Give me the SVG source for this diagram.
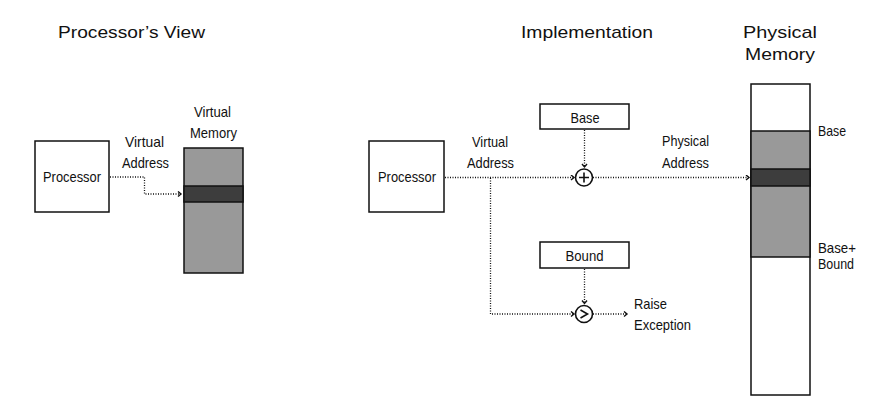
<svg xmlns="http://www.w3.org/2000/svg" width="891" height="413" viewBox="0 0 891 413">
<style>
text{font-family:"Liberation Sans",Arial,sans-serif;fill:#111;}
.t{font-size:17px;}
.l{font-size:14.5px;}
.box{fill:#fff;stroke:#111;stroke-width:1.5;}
.gray{fill:#999;stroke:#111;stroke-width:1.5;}
.dark{fill:#3d3d3d;stroke:#111;stroke-width:1.5;}
.dot{fill:none;stroke:#111;stroke-width:1.3;stroke-dasharray:1 1.5;}
.op{fill:#fff;stroke:#111;stroke-width:1.6;}
</style>
<defs>
<marker id="ah" markerWidth="8" markerHeight="8" refX="4" refY="3" orient="auto" markerUnits="userSpaceOnUse">
<path d="M1,0.5 L4,3 L1,5.5" fill="none" stroke="#111" stroke-width="1.4"/>
</marker>
</defs>
<rect width="891" height="413" fill="#fff"/>

<g id="titles">
<text class="t" x="58" y="38" textLength="147" lengthAdjust="spacingAndGlyphs">Processor’s View</text>
<text class="t" x="521" y="38" textLength="132" lengthAdjust="spacingAndGlyphs">Implementation</text>
<text class="t" x="743" y="38" textLength="74" lengthAdjust="spacingAndGlyphs">Physical</text>
<text class="t" x="745" y="60" textLength="70" lengthAdjust="spacingAndGlyphs">Memory</text>
</g>

<g id="left-processor">
<rect class="box" x="35" y="141" width="74" height="71"/>
<text class="l" x="43" y="182" textLength="58" lengthAdjust="spacingAndGlyphs">Processor</text>
</g>

<g id="virtual-memory">
<text class="l" x="194" y="117" textLength="37" lengthAdjust="spacingAndGlyphs">Virtual</text>
<text class="l" x="190" y="138" textLength="47" lengthAdjust="spacingAndGlyphs">Memory</text>
<rect class="gray" x="184" y="148" width="59" height="125"/>
<rect class="dark" x="184" y="186" width="59" height="16"/>
</g>

<g id="right-processor">
<rect class="box" x="369" y="141" width="75" height="71"/>
<text class="l" x="378" y="182" textLength="58" lengthAdjust="spacingAndGlyphs">Processor</text>
</g>

<g id="base-reg">
<rect class="box" x="540" y="104" width="89" height="25"/>
<text class="l" x="570.5" y="122.5" textLength="29" lengthAdjust="spacingAndGlyphs">Base</text>
</g>

<g id="bound-reg">
<rect class="box" x="540" y="242" width="89" height="26"/>
<text class="l" x="565.5" y="260.5" textLength="38" lengthAdjust="spacingAndGlyphs">Bound</text>
</g>

<g id="adder">
<circle class="op" cx="584" cy="177.5" r="8.5"/>
<path d="M584,172.5 V182.5 M579,177.5 H589" stroke="#111" stroke-width="1.6"/>
</g>

<g id="comparator">
<circle class="op" cx="584" cy="314" r="8.5"/>
<path d="M580.5,310 L587.5,314 L580.5,318" fill="none" stroke="#111" stroke-width="1.6"/>
</g>

<g id="physical-memory">
<rect class="box" x="751" y="84" width="59" height="311"/>
<rect class="gray" x="751" y="131" width="59" height="126"/>
<rect class="dark" x="751" y="169" width="59" height="17"/>
<text class="l" x="818" y="136" textLength="28" lengthAdjust="spacingAndGlyphs">Base</text>
<text class="l" x="818" y="253" textLength="38" lengthAdjust="spacingAndGlyphs">Base+</text>
<text class="l" x="818" y="269" textLength="36" lengthAdjust="spacingAndGlyphs">Bound</text>
</g>

<g id="labels">
<text class="l" x="125" y="147" textLength="39" lengthAdjust="spacingAndGlyphs">Virtual</text>
<text class="l" x="122" y="168" textLength="47" lengthAdjust="spacingAndGlyphs">Address</text>
<text class="l" x="472" y="147" textLength="36" lengthAdjust="spacingAndGlyphs">Virtual</text>
<text class="l" x="467" y="168" textLength="47" lengthAdjust="spacingAndGlyphs">Address</text>
<text class="l" x="662" y="146" textLength="47" lengthAdjust="spacingAndGlyphs">Physical</text>
<text class="l" x="662" y="167.5" textLength="47" lengthAdjust="spacingAndGlyphs">Address</text>
<text class="l" x="634" y="309" textLength="33" lengthAdjust="spacingAndGlyphs">Raise</text>
<text class="l" x="634" y="330" textLength="57" lengthAdjust="spacingAndGlyphs">Exception</text>
</g>

<g id="connectors">
<path class="dot" d="M110,177 H144.5 V194 H181" marker-end="url(#ah)"/>
<path class="dot" d="M445,177.5 H574" marker-end="url(#ah)"/>
<path class="dot" d="M584.5,130 V167" marker-end="url(#ah)"/>
<path class="dot" d="M593,177.5 H749" marker-end="url(#ah)"/>
<path class="dot" d="M490.5,178 V314 H574" marker-end="url(#ah)"/>
<path class="dot" d="M584.5,269 V303.5" marker-end="url(#ah)"/>
<path class="dot" d="M593,314 H627" marker-end="url(#ah)"/>
</g>
</svg>
